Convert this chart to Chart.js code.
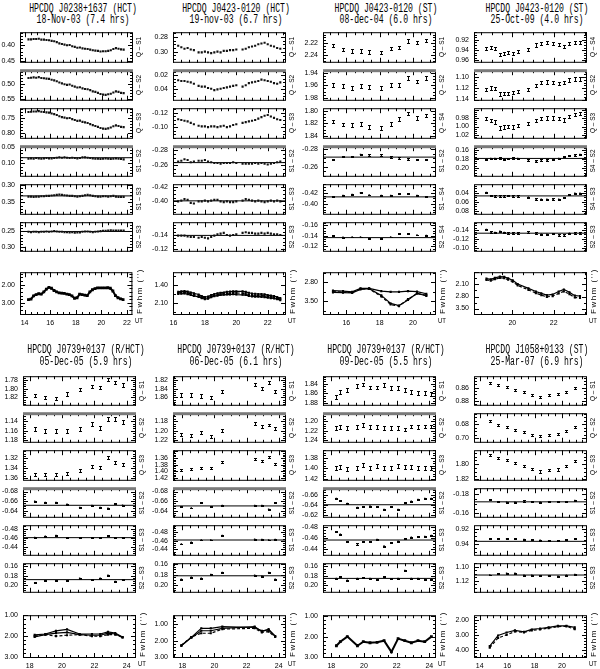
<!DOCTYPE html>
<html>
<head>
<meta charset="utf-8">
<script src="https://cdn.jsdelivr.net/npm/chart.js@4.4.0/dist/chart.umd.min.js"></script>
<style>
body { margin: 0; width: 600px; height: 669px; background: #fff; position: relative; overflow: hidden; }
.ttl { position: absolute; white-space: nowrap; font-family: 'Liberation Mono', monospace; font-size: 12px; line-height: 12px; color: #000; transform: translate(-50%, -50%) scaleX(0.68); }
.rlab { position: absolute; white-space: nowrap; font-family: 'Liberation Sans', sans-serif; font-size: 6.5px; line-height: 7px; color: #000; transform: translate(-50%, -50%) rotate(-90deg); }
.fw { position: absolute; white-space: nowrap; font-family: 'Liberation Sans', sans-serif; font-size: 8px; line-height: 8px; letter-spacing: 1.5px; color: #000; transform: translate(-50%, -50%) rotate(-90deg); }
.ut { position: absolute; white-space: nowrap; font-family: 'Liberation Sans', sans-serif; font-size: 7px; line-height: 7px; color: #000; transform: translate(-50%, -50%) scaleX(0.85); }
</style>
</head>
<body>
<script>
// ---- titles and panel labels ----
const titles1 = ['HPCDQ J0238+1637 (HCT)', 'HPCDQ J0423-0120 (HCT)', 'HPCDQ J0423-0120 (ST)', 'HPCDQ J0423-0120 (ST)',
                 'HPCDQ J0739+0137 (R/HCT)', 'HPCDQ J0739+0137 (R/HCT)', 'HPCDQ J0739+0137 (R/HCT)', 'HPCDQ J1058+0133 (ST)'];
const titles2 = ['18-Nov-03 (7.4 hrs)', '19-nov-03 (6.7 hrs)', '08-dec-04 (6.0 hrs)', '25-Oct-09 (4.0 hrs)',
                 '05-Dec-05 (5.9 hrs)', '06-Dec-05 (6.1 hrs)', '09-Dec-05 (5.5 hrs)', '25-Mar-07 (6.9 hrs)'];
const labStd = ['Q – S1', 'Q – S2', 'Q – S3', 'S1 – S2', 'S1 – S3', 'S2 – S3'];
const labC = ['Q – S1', 'Q – S2', 'Q – S4', 'S1 – S2', 'S1 – S4', 'S2 – S4'];
const labD = ['Q – S4', 'Q – S2', 'Q – S3', 'S4 – S2', 'S4 – S3', 'S2 – S3'];

// ---- J0238+1637, 18-Nov-03 ----
const aTime = [14.3,14.5,14.7,14.9,15.1,15.3,15.5,15.7,15.9,16.1,16.3,16.5,16.7,16.9,17.1,17.3,17.5,17.7,17.9,18.1,18.3,18.5,18.7,18.9,19.1,19.3,19.5,19.7,19.9,20.1,20.3,20.5,20.7,20.9,21.1,21.3,21.5,21.7];
const aQ1 = [0.381,0.381,0.380,0.380,0.379,0.382,0.382,0.383,0.384,0.386,0.387,0.390,0.394,0.396,0.398,0.400,0.399,0.403,0.405,0.408,0.407,0.410,0.411,0.412,0.414,0.416,0.417,0.418,0.420,0.419,0.419,0.418,0.416,0.412,0.409,0.411,0.413,0.414];
const aQ2 = [0.479,0.478,0.477,0.478,0.476,0.479,0.480,0.481,0.482,0.485,0.487,0.490,0.494,0.497,0.500,0.502,0.501,0.505,0.508,0.511,0.510,0.514,0.516,0.517,0.520,0.524,0.526,0.529,0.533,0.535,0.536,0.534,0.532,0.528,0.524,0.526,0.529,0.530];
const aQ3 = [0.729,0.728,0.727,0.727,0.726,0.728,0.729,0.730,0.731,0.734,0.736,0.739,0.743,0.746,0.748,0.750,0.749,0.753,0.756,0.759,0.758,0.762,0.764,0.766,0.770,0.773,0.776,0.779,0.783,0.785,0.786,0.784,0.781,0.777,0.774,0.776,0.779,0.780];
const aD12 = [0.086,0.085,0.086,0.084,0.085,0.086,0.085,0.084,0.085,0.085,0.084,0.083,0.082,0.083,0.082,0.083,0.084,0.083,0.084,0.085,0.084,0.082,0.082,0.083,0.084,0.085,0.086,0.086,0.087,0.086,0.085,0.086,0.087,0.086,0.085,0.086,0.087,0.088];
const aD13 = [0.334,0.334,0.335,0.334,0.334,0.333,0.333,0.332,0.332,0.331,0.330,0.329,0.328,0.329,0.330,0.331,0.332,0.332,0.333,0.334,0.333,0.332,0.330,0.329,0.330,0.332,0.333,0.334,0.334,0.333,0.333,0.334,0.333,0.332,0.334,0.335,0.335,0.335];
const aD23 = [0.251,0.252,0.251,0.251,0.252,0.251,0.251,0.250,0.251,0.250,0.249,0.250,0.251,0.251,0.252,0.252,0.253,0.252,0.254,0.253,0.253,0.251,0.250,0.250,0.251,0.252,0.251,0.250,0.249,0.248,0.248,0.247,0.246,0.247,0.247,0.247,0.247,0.247];
const aFw1 = [2.82,2.80,2.62,2.55,2.50,2.52,2.40,2.25,2.15,2.20,2.32,2.40,2.45,2.47,2.48,2.52,2.55,2.62,2.75,2.72,2.52,2.55,2.58,2.60,2.40,2.28,2.22,2.18,2.18,2.18,2.18,2.17,2.20,2.35,2.60,2.72,2.78,2.82];
const aRef = [0.083, 0.332, 0.250];
const aRange = [[0.358,0.453],[0.4526,0.5526],[0.716,0.816],[0.048,0.138],[0.298,0.384],[0.22,0.3125],[1.315,3.615]];
const aTicks = [[0.40,0.45],[0.50,0.55],[0.75,0.80],[0.05,0.10],[0.30,0.35],[0.25,0.30],[2.00,3.00]];

// ---- J0423-0120 (HCT), 19-nov-03 ----
const bTime = [16.3,16.5,16.7,16.9,17.1,17.3,17.6,17.8,18.0,18.2,18.4,18.6,18.8,19.0,19.2,19.4,19.6,19.8,20.0,20.4,20.6,20.8,21.0,21.2,21.4,21.6,21.8,22.0,22.2,22.4,22.6,22.8];
const bQ1 = [0.292,0.294,0.296,0.295,0.297,0.298,0.301,0.301,0.300,0.301,0.302,0.301,0.300,0.301,0.299,0.299,0.298,0.298,0.297,0.297,0.296,0.294,0.293,0.292,0.290,0.289,0.288,0.290,0.292,0.293,0.295,0.296];
const bQ2 = [0.027,0.028,0.028,0.029,0.030,0.032,0.035,0.036,0.036,0.038,0.039,0.041,0.040,0.039,0.038,0.037,0.036,0.035,0.034,0.036,0.034,0.031,0.030,0.029,0.028,0.026,0.027,0.028,0.029,0.031,0.032,0.030];
const bQ3 = [-0.111,-0.110,-0.109,-0.108,-0.106,-0.104,-0.102,-0.101,-0.101,-0.100,-0.101,-0.101,-0.100,-0.101,-0.102,-0.100,-0.101,-0.103,-0.104,-0.106,-0.107,-0.108,-0.109,-0.110,-0.112,-0.114,-0.116,-0.117,-0.115,-0.113,-0.111,-0.110];
const bD12 = [-0.265,-0.266,-0.268,-0.267,-0.264,-0.265,-0.266,-0.266,-0.267,-0.265,-0.264,-0.263,-0.263,-0.262,-0.263,-0.263,-0.263,-0.264,-0.263,-0.262,-0.262,-0.262,-0.262,-0.263,-0.262,-0.263,-0.262,-0.261,-0.262,-0.263,-0.264,-0.265];
const bD13 = [-0.400,-0.401,-0.403,-0.402,-0.398,-0.397,-0.400,-0.400,-0.401,-0.400,-0.401,-0.402,-0.402,-0.400,-0.399,-0.400,-0.399,-0.399,-0.400,-0.401,-0.403,-0.402,-0.401,-0.400,-0.401,-0.400,-0.399,-0.400,-0.401,-0.400,-0.401,-0.400];
const bD23 = [-0.139,-0.139,-0.139,-0.138,-0.137,-0.137,-0.136,-0.137,-0.136,-0.135,-0.137,-0.139,-0.141,-0.142,-0.143,-0.140,-0.139,-0.140,-0.141,-0.143,-0.144,-0.143,-0.143,-0.142,-0.142,-0.143,-0.142,-0.143,-0.142,-0.141,-0.141,-0.140];
const bFw1 = [1.68,1.66,1.65,1.67,1.70,1.73,1.78,1.84,1.88,1.86,1.80,1.76,1.73,1.71,1.70,1.68,1.67,1.66,1.66,1.66,1.68,1.71,1.74,1.75,1.76,1.76,1.77,1.80,1.82,1.84,1.88,1.92];
const bFw2 = [1.72,1.70,1.70,1.72,1.75,1.78,1.83,1.88,1.92,1.90,1.85,1.81,1.78,1.76,1.75,1.74,1.73,1.72,1.72,1.73,1.75,1.78,1.80,1.81,1.82,1.82,1.83,1.85,1.87,1.89,1.92,1.96];
const bFw3 = [1.76,1.75,1.74,1.77,1.80,1.83,1.87,1.92,1.96,1.94,1.88,1.84,1.82,1.80,1.79,1.78,1.78,1.77,1.78,1.79,1.80,1.83,1.85,1.86,1.86,1.87,1.88,1.90,1.92,1.93,1.96,2.00];
const bRef = [-0.2636, -0.4007, -0.1394];
const bRange = [[0.2737,0.3137],[0.0126,0.0548],[-0.1266,-0.085],[-0.2855,-0.246],[-0.4236,-0.3829],[-0.1586,-0.117],[0.92,2.53]];
const bTicks = [[0.28,0.30],[0.02,0.04],[-0.12,-0.10],[-0.28,-0.26],[-0.42,-0.40],[-0.14,-0.12],[1.40,2.10]];

// ---- J0423-0120 (ST), 08-dec-04 ----
const cTime = [15.2,15.8,16.35,16.85,17.37,18.1,18.66,19.16,19.7,20.24,20.8];
const cQ1 = [2.2236,2.2303,2.233,2.233,2.2347,2.236,2.229,2.227,2.2164,2.219,2.215];
const cQ2 = [1.959,1.961,1.964,1.961,1.963,1.964,1.960,1.959,1.948,1.954,1.948];
const cQ4 = [1.817,1.822,1.823,1.821,1.826,1.827,1.821,1.813,1.804,1.811,1.807];
const cD12 = [-0.268,-0.2715,-0.2715,-0.274,-0.2735,-0.2735,-0.271,-0.270,-0.269,-0.268,-0.268];
const cD14 = [-0.4126,-0.415,-0.417,-0.420,-0.416,-0.415,-0.415,-0.418,-0.418,-0.415,-0.4125];
const cD24 = [-0.140,-0.1376,-0.138,-0.138,-0.1353,-0.1343,-0.138,-0.144,-0.144,-0.1416,-0.141];
const cFw1 = [3.10,3.12,3.15,3.02,3.02,3.12,3.15,3.15,3.12,3.14,3.22];
const cFw2 = [3.14,3.16,3.17,3.04,3.04,3.32,3.62,3.68,3.42,3.22,3.27];
const cFw3 = [3.17,3.18,3.19,3.06,3.03,3.28,3.58,3.66,3.45,3.20,3.30];
const cRef = [-0.2709, -0.4126, -0.1367];
const cErr = [0.003, 0.003, 0.003, 0.0008, 0.0008, 0.0008];
const cRange = [[2.201,2.2516],[1.936,1.983],[1.7953,1.8435],[-0.2833,-0.2497],[-0.435,-0.3827],[-0.1663,-0.1114],[2.418,3.973]];
const cTicks = [[2.22,2.24],[1.94,1.96,1.98],[1.80,1.82,1.84],[-0.28,-0.26],[-0.42,-0.40],[-0.16,-0.14,-0.12],[2.80,3.50]];

// ---- J0423-0120 (ST), 25-Oct-09 ----
const dTime = [18.75,18.96,19.16,19.4,19.61,19.8,20.02,20.26,20.78,21.14,21.4,21.67,21.95,22.24,22.49,22.76,23.02,23.27];
const dQ4 = [0.9373,0.935,0.9376,0.9476,0.9458,0.9444,0.9458,0.9431,0.9391,0.930,0.9264,0.9247,0.9267,0.9297,0.9324,0.9278,0.9254,0.9254];
const dQ2 = [1.1223,1.1195,1.1205,1.1305,1.129,1.129,1.128,1.1259,1.1223,1.1155,1.110,1.1087,1.110,1.111,1.1096,1.1054,1.1036,1.1032];
const dQ3 = [0.9812,0.9862,0.9893,1.0037,1.0012,1.0006,1.0012,0.9981,0.9932,0.9852,0.9812,0.980,0.980,0.9812,0.9849,0.9769,0.9707,0.9695];
const dD42 = [0.1806,0.1789,0.1789,0.1777,0.1806,0.1794,0.1777,0.1789,0.1823,0.1846,0.1823,0.1823,0.1817,0.1789,0.175,0.1731,0.1714,0.1703];
const dD43 = [0.0394,0.0466,0.0472,0.0469,0.0470,0.0466,0.0470,0.0468,0.0497,0.0537,0.0543,0.0543,0.0537,0.0543,0.0509,0.044,0.0411,0.0411];
const dD23 = [-0.141,-0.1356,-0.1345,-0.1372,-0.1345,-0.1334,-0.1334,-0.1334,-0.1356,-0.1334,-0.1306,-0.1306,-0.1317,-0.129,-0.129,-0.1328,-0.1334,-0.1334];
const dFw1 = [1.76,1.80,1.72,1.64,1.66,1.74,1.86,2.07,2.33,2.51,2.62,2.72,2.68,2.51,2.39,2.55,2.75,2.77];
const dFw2 = [1.84,1.88,1.80,1.72,1.74,1.82,1.94,2.15,2.42,2.60,2.72,2.82,2.78,2.62,2.50,2.66,2.86,2.88];
const dRef = [0.1789, 0.0469, -0.1328];
const dErr = [0.003, 0.003, 0.004, 0.0015, 0.0015, 0.0015];
const dRange = [[0.905,0.9627],[1.0878,1.1405],[0.9565,1.0267],[0.152,0.2171],[0.0211,0.0863],[-0.1572,-0.0937],[1.387,3.816]];
const dTicks = [[0.92,0.94,0.96],[1.10,1.12,1.14],[0.98,1.00,1.02],[0.16,0.18,0.20],[0.04,0.06,0.08],[-0.14,-0.12,-0.10],[2.10,2.80,3.50]];

// ---- J0739+0137, 05-Dec-05 ----
const eTime = [18.31,18.97,19.63,20.31,21.09,21.85,22.36,22.84,23.29,23.74];
const eQ1 = [1.8158,1.82,1.8225,1.8125,1.8024,1.7948,1.7978,1.7788,1.7858,1.7917];
const eQ2 = [1.1556,1.161,1.161,1.16,1.1556,1.1459,1.1533,1.1363,1.1352,1.1416];
const eQ3 = [1.352,1.3536,1.3536,1.351,1.344,1.336,1.339,1.3174,1.328,1.3323];
const eD12 = [-0.66,-0.6573,-0.6573,-0.6536,-0.6467,-0.6509,-0.6467,-0.6451,-0.6547,-0.6512];
const eD13 = [-0.4605,-0.463,-0.4648,-0.46,-0.4595,-0.46,-0.4595,-0.464,-0.46,-0.46];
const eD23 = [0.1951,0.1908,0.1908,0.1908,0.1853,0.1881,0.1853,0.1788,0.192,0.1881];
const eFw1 = [1.94,1.90,1.75,1.68,1.90,1.90,1.90,1.80,1.86,2.04];
const eFw2 = [2.00,1.93,2.00,1.96,1.93,2.00,2.01,1.93,1.93,2.06];
const eFw3 = [2.04,1.93,1.86,1.82,1.93,1.96,1.96,1.86,1.90,2.06];
const eRef = [-0.6512, -0.46, 0.1881];
const eErr = [0.004, 0.004, 0.003, 0.001, 0.001, 0.001];
const eRange = [[1.7717,1.837],[1.1235,1.1828],[1.303,1.3637],[-0.6869,-0.6272],[-0.4878,-0.4217],[0.1535,0.2137],[1.0,3.0]];
const eTicks = [[1.78,1.80,1.82],[1.14,1.16,1.18],[1.32,1.34,1.36],[-0.68,-0.66,-0.64],[-0.48,-0.46,-0.44],[0.16,0.18,0.20],[1.00,2.00,3.00]];

// ---- J0739+0137, 06-Dec-05 ----
const fTime = [17.94,18.56,19.18,19.77,20.49,22.5,22.95,23.37,23.78];
const fQ1 = [1.8541,1.8541,1.857,1.86,1.8466,1.8306,1.8395,1.8258,1.8466];
const fQ2 = [1.2079,1.2106,1.2037,1.2122,1.199,1.184,1.192,1.188,1.1947];
const fQ3 = [1.3949,1.3943,1.3887,1.391,1.3717,1.3616,1.3693,1.3577,1.3787];
const fD12 = [-0.6483,-0.6456,-0.6563,-0.6483,-0.651,-0.651,-0.651,-0.643,-0.6563];
const fD13 = [-0.4527,-0.457,-0.4618,-0.4618,-0.4722,-0.4636,-0.4632,-0.4618,-0.4632];
const fD23 = [0.1883,0.1845,0.1868,0.1795,0.1757,0.1811,0.1826,0.1757,0.1883];
const fFw1 = [2.30,1.80,1.25,1.25,1.15,1.20,1.40,1.35,1.72];
const fFw2 = [2.28,1.78,1.55,1.55,1.30,1.25,1.50,1.45,1.78];
const fFw3 = [2.32,1.82,1.40,1.40,1.25,1.15,1.45,1.30,1.75];
const fRef = [-0.6499, -0.4618, 0.182];
const fErr = [0.004, 0.003, 0.003, 0.001, 0.001, 0.001];
const fRange = [[1.8117,1.877],[1.1635,1.2228],[1.3367,1.4254],[-0.6869,-0.6272],[-0.4958,-0.4278],[0.158,0.2125],[0.45,3.0]];
const fTicks = [[1.82,1.84,1.86],[1.18,1.20,1.22],[1.36,1.38,1.40,1.42],[-0.68,-0.66,-0.64],[-0.48,-0.46,-0.44],[0.16,0.18,0.20],[1.00,2.00,3.00]];

// ---- J0739+0137, 09-Dec-05 ----
const gTime = [18.31,18.55,18.98,19.6,19.96,20.37,20.8,21.23,21.68,22.09,22.5,22.9,23.31,23.72,24.13];
const gQ1 = [1.867,1.8578,1.8533,1.844,1.8413,1.8479,1.8479,1.8424,1.8496,1.8496,1.8533,1.8578,1.859,1.86,1.8605];
const gQ2 = [1.2134,1.212,1.2134,1.212,1.2075,1.212,1.212,1.2134,1.2134,1.2147,1.2174,1.211,1.2128,1.211,1.211];
const gQ3 = [1.40,1.397,1.402,1.40,1.3935,1.3985,1.395,1.40,1.40,1.396,1.397,1.3975,1.40,1.40,1.40];
const gD12 = [-0.6528,-0.6477,-0.6425,-0.6347,-0.6355,-0.6374,-0.6355,-0.6306,-0.6355,-0.6306,-0.6443,-0.6474,-0.6506,-0.6527,-0.653];
const gD13 = [-0.4723,-0.4675,-0.4538,-0.45,-0.4538,-0.4538,-0.458,-0.4462,-0.452,-0.455,-0.4595,-0.462,-0.463,-0.4635,-0.4655];
const gD23 = [0.1855,0.1817,0.1894,0.1855,0.184,0.1855,0.188,0.1817,0.1865,0.1855,0.1686,0.1855,0.1855,0.187,0.187];
const gFw1 = [2.45,2.25,2.00,2.45,2.25,2.30,2.28,2.20,2.75,2.10,2.20,2.30,2.20,2.25,2.00];
const gRef = [-0.64, -0.4571, 0.1855];
const gErr = [0.004, 0.004, 0.004, 0.001, 0.001, 0.001];
const gRange = [[1.824,1.884],[1.1835,1.2428],[1.365,1.422],[-0.6736,-0.6155],[-0.4839,-0.4304],[0.1535,0.2137],[0.95,3.0]];
const gTicks = [[1.84,1.86,1.88],[1.20,1.22,1.24],[1.38,1.40,1.42],[-0.66,-0.64,-0.62],[-0.48,-0.46,-0.44],[0.16,0.18,0.20],[1.00,2.00,3.00]];

// ---- J1058+0133, 25-Mar-07 ----
const hTime = [14.73,15.34,15.96,16.57,17.23,17.8,18.41,19.03,19.71,20.33,20.94];
const hQ1 = [0.853,0.856,0.8592,0.8638,0.8669,0.8707,0.8734,0.8704,0.8688,0.8658,0.8607];
const hQ2 = [0.6757,0.6811,0.6837,0.6884,0.6903,0.6946,0.6964,0.6953,0.6935,0.6891,0.6837];
const hQ3 = [1.7873,1.7918,1.7941,1.7983,1.8028,1.8062,1.8097,1.808,1.807,1.8028,1.7959];
const hD12 = [-0.1742,-0.1722,-0.1715,-0.1715,-0.1728,-0.1722,-0.1715,-0.1722,-0.1722,-0.1722,-0.1735];
const hD13 = [0.933,0.9334,0.9334,0.933,0.9341,0.9345,0.9352,0.9357,0.9357,0.9345,0.9334];
const hD23 = [1.1117,1.1099,1.1092,1.1092,1.1121,1.1121,1.1128,1.1128,1.1135,1.1121,1.111];
const hFw1 = [3.74,3.04,2.84,2.70,2.80,2.64,2.58,2.50,2.40,2.40,2.50];
const hFw2 = [3.85,3.20,3.00,2.78,2.84,2.70,2.64,2.55,2.45,2.44,2.62];
const hRef = [-0.172, 0.9366, 1.1117];
const hErr = [0.0015, 0.0015, 0.0015, 0.0006, 0.0006, 0.0006];
const hRange = [[0.843,0.8856],[0.6644,0.7047],[1.7814,1.8207],[-0.1862,-0.1564],[0.9155,0.9542],[1.095,1.1354],[1.70,4.46]];
const hTicks = [[0.86,0.88],[0.68,0.70],[1.80,1.82],[-0.18,-0.16],[0.92,0.94],[1.10,1.12],[2.00,3.00,4.00]];

// ---- UT axes ----
const xRanges = [[13.64,22.35],[15.97,23.1],[14.6,21.32],[18.15,23.56],[17.59,24.51],[17.42,24.39],[17.49,24.35],[13.58,21.76]];
const xTicks = [[14,16,18,20,22],[16,18,20,22],[16,18,20],[20,22],[18,20,22,24],[18,20,22,24],[18,20,22,24],[14,16,18,20]];

// ---- page layout ----
const PAD = 30, FW = 112;
const TOP = { lefts: [20, 173, 323, 474], tops: [28, 66, 104, 142, 180, 218, 255], fwhm: [268, 314], t1: 9, t2: 20 };
const BOT = { lefts: [23, 173, 323, 474], tops: [372, 409, 446, 484, 521, 559, 596], fwhm: [611, 657], t1: 350, t2: 362 };
const FONT = { family: '"Liberation Sans Narrow", "Liberation Sans", sans-serif', size: 7 };

function subsFor(step) {
  const r = Math.round(step / Math.pow(10, Math.floor(Math.log10(step) + 1e-9)));
  return r === 2 ? 4 : r === 7 ? 2 : 5;
}

function tickMarks(lo, hi, major) {
  const step = major[1] - major[0], n = subsFor(step), st = step / n;
  const out = [];
  for (let k = Math.ceil((lo - major[0]) / st - 1e-6); major[0] + k * st <= hi + 1e-9; k++) {
    out.push([major[0] + k * st, ((k % n) + n) % n === 0]);
  }
  return out;
}

// frame round the plot with inward ticks on all four sides
function framePlugin(xt, yt, thickTop) {
  return {
    id: 'frame',
    afterDraw(chart) {
      const { ctx, chartArea: a, scales: { x, y } } = chart;
      ctx.save();
      ctx.strokeStyle = '#000';
      ctx.lineWidth = 1;
      ctx.strokeRect(a.left + 0.5, a.top + 0.5, a.right - a.left, a.bottom - a.top);
      ctx.beginPath();
      tickMarks(y.min, y.max, yt).forEach(([v, big]) => {
        const p = Math.round(y.getPixelForValue(v)) + 0.5, L = big ? 4 : 2;
        ctx.moveTo(a.left, p); ctx.lineTo(a.left + L + 1, p);
        ctx.moveTo(a.right + 1, p); ctx.lineTo(a.right - L, p);
      });
      tickMarks(x.min, x.max, xt).forEach(([v, big]) => {
        const p = Math.round(x.getPixelForValue(v)) + 0.5, L = big ? 5 : 3;
        ctx.moveTo(p, a.top); ctx.lineTo(p, a.top + L);
        ctx.moveTo(p, a.bottom + 1); ctx.lineTo(p, a.bottom + 1 - L);
      });
      ctx.stroke();
      if (thickTop) {
        ctx.fillStyle = '#7a7a7a';
        ctx.fillRect(a.left, a.top - 1, a.right - a.left + 1, 3);
      }
      ctx.restore();
    }
  };
}

// error bars with small caps
const barPlugin = {
  id: 'bars',
  afterDatasetsDraw(chart) {
    const { ctx, chartArea: a, scales: { x, y } } = chart;
    ctx.save();
    ctx.beginPath();
    ctx.rect(a.left, a.top, a.right - a.left, a.bottom - a.top);
    ctx.clip();
    ctx.strokeStyle = '#000';
    ctx.lineWidth = 1;
    ctx.beginPath();
    chart.data.datasets.forEach(ds => {
      if (!ds.err) return;
      ds.data.forEach(p => {
        const px = Math.round(x.getPixelForValue(p.x)) + 0.5;
        const y1 = Math.round(y.getPixelForValue(p.y - ds.err)) + 0.5;
        const y2 = Math.round(y.getPixelForValue(p.y + ds.err)) + 0.5;
        ctx.moveTo(px, y1); ctx.lineTo(px, y2);
        ctx.moveTo(px - 1.5, y1); ctx.lineTo(px + 1.5, y1);
        ctx.moveTo(px - 1.5, y2); ctx.lineTo(px + 1.5, y2);
      });
    });
    ctx.stroke();
    ctx.restore();
  }
};

function addText(txt, x, y, cls) {
  const d = document.createElement('div');
  d.className = cls;
  d.textContent = txt;
  d.style.left = x + 'px';
  d.style.top = y + 'px';
  document.body.appendChild(d);
}

function plot(fr, xr, xt, yr, yt, sets, showX, thickTop) {
  const W = PAD + fr.w + 4, H = fr.h + 5 + (showX ? 17 : 5);
  const div = document.createElement('div');
  div.style.cssText = `position:absolute;left:${fr.l - PAD}px;top:${fr.t - 5}px;width:${W}px;height:${H}px`;
  const cv = document.createElement('canvas');
  cv.width = W;
  cv.height = H;
  div.appendChild(cv);
  document.body.appendChild(div);
  new Chart(cv, {
    type: 'scatter',
    data: { datasets: sets },
    options: {
      responsive: false,
      animation: false,
      events: [],
      layout: { padding: { top: 5, bottom: showX ? 0 : 5, left: 0, right: 4 } },
      plugins: { legend: { display: false }, tooltip: { enabled: false } },
      scales: {
        x: {
          type: 'linear', min: xr[0], max: xr[1], display: showX,
          afterFit: s => { s.height = showX ? 17 : 0; },
          afterBuildTicks: s => { s.ticks = xt.map(v => ({ value: v })); },
          grid: { display: false, drawTicks: false },
          border: { display: false },
          ticks: { padding: 5, font: FONT, color: '#000', maxRotation: 0, autoSkip: false, callback: v => String(v) }
        },
        y: {
          type: 'linear', reverse: true, min: yr[0], max: yr[1],
          afterFit: s => { s.width = PAD; },
          afterBuildTicks: s => { s.ticks = yt.map(v => ({ value: v })); },
          grid: { display: false, drawTicks: false },
          border: { display: false },
          ticks: { padding: 5, font: FONT, color: '#000', autoSkip: false, callback: v => v.toFixed(2) }
        }
      }
    },
    plugins: [framePlugin(xt, yt, thickTop), barPlugin]
  });
}

// dense runs (errs == null) get small filled squares instead of capped error bars
function drawColumn(k, times, series, refs, errs, ranges, ticks, fw, labels, grayJoins) {
  const row = k < 4 ? TOP : BOT;
  const l = row.lefts[k % 4];
  const xr = xRanges[k], xt = xTicks[k];
  addText(titles1[k], l + 63, row.t1, 'ttl');
  addText(titles2[k], l + 63, row.t2, 'ttl');
  for (let i = 0; i < 6; i++) {
    const fr = { l, t: row.tops[i], w: FW, h: row.tops[i + 1] - row.tops[i] };
    const pts = times.map((t, j) => ({ x: t, y: series[i][j] }));
    const sets = [errs ? {
      data: pts, err: errs[i],
      pointRadius: i > 2 ? 1 : 0, pointStyle: 'rect',
      backgroundColor: '#000', borderWidth: 0
    } : {
      data: pts, pointStyle: 'rect', pointRadius: 1.5,
      backgroundColor: '#111', borderWidth: 0
    }];
    if (i > 2) {
      sets.push({
        type: 'line', showLine: true,
        data: [{ x: xr[0], y: refs[i - 3] }, { x: xr[1], y: refs[i - 3] }],
        borderColor: '#000', borderWidth: 1, pointRadius: 0
      });
    }
    plot(fr, xr, xt, ranges[i], ticks[i], sets, false, grayJoins && (i === 1 || i === 3));
    addText(labels[i], l + FW + 6, fr.t + fr.h / 2, 'rlab');
  }
  const ff = { l, t: row.fwhm[0], w: FW, h: row.fwhm[1] - row.fwhm[0] };
  const fsets = fw.map((s, j) => ({
    type: 'line', showLine: true,
    data: times.map((t, m) => ({ x: t, y: s[m] })),
    borderColor: '#000', borderWidth: fw.length === 1 ? 2 : 1.2,
    borderDash: j === 1 ? [3, 2] : [],
    pointStyle: 'rect', pointRadius: fw.length === 1 ? 2 : 1.5,
    pointBackgroundColor: '#000', pointBorderColor: '#000', pointBorderWidth: 0,
    tension: 0
  }));
  plot(ff, xr, xt, ranges[6], ticks[6], fsets, true, false);
  addText("Fwhm ('')", l + FW + 8, (row.fwhm[0] + row.fwhm[1]) / 2, 'fw');
  addText('UT', l + FW + 7, row.fwhm[1] + 6, 'ut');
}

drawColumn(0, aTime, [aQ1, aQ2, aQ3, aD12, aD13, aD23], aRef, null, aRange, aTicks, [aFw1], labStd, true);
drawColumn(1, bTime, [bQ1, bQ2, bQ3, bD12, bD13, bD23], bRef, null, bRange, bTicks, [bFw1, bFw2, bFw3], labStd, true);
drawColumn(2, cTime, [cQ1, cQ2, cQ4, cD12, cD14, cD24], cRef, cErr, cRange, cTicks, [cFw1, cFw2, cFw3], labC, true);
drawColumn(3, dTime, [dQ4, dQ2, dQ3, dD42, dD43, dD23], dRef, dErr, dRange, dTicks, [dFw1, dFw2], labD, true);
drawColumn(4, eTime, [eQ1, eQ2, eQ3, eD12, eD13, eD23], eRef, eErr, eRange, eTicks, [eFw1, eFw2, eFw3], labStd, true);
drawColumn(5, fTime, [fQ1, fQ2, fQ3, fD12, fD13, fD23], fRef, fErr, fRange, fTicks, [fFw1, fFw2, fFw3], labStd, true);
drawColumn(6, gTime, [gQ1, gQ2, gQ3, gD12, gD13, gD23], gRef, gErr, gRange, gTicks, [gFw1], labStd, true);
drawColumn(7, hTime, [hQ1, hQ2, hQ3, hD12, hD13, hD23], hRef, hErr, hRange, hTicks, [hFw1, hFw2], labStd, false);
</script>
</body>
</html>
